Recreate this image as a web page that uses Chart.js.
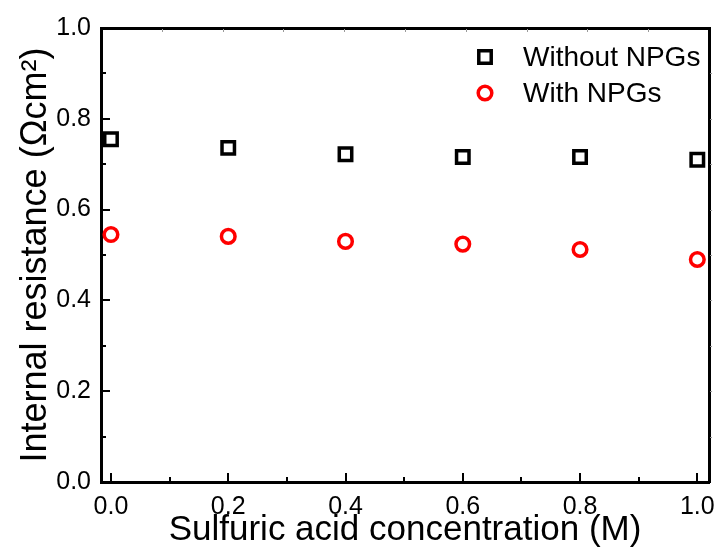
<!DOCTYPE html>
<html lang="en">
<head>
    <meta charset="UTF-8">
    <title>Internal resistance vs sulfuric acid concentration</title>
    <script src="https://cdn.jsdelivr.net/npm/chart.js"></script>
    <style>
        html, body {
            margin: 0;
            padding: 0;
            background: #fff;
        }
        #wrap {
            width: 725px;
            height: 556px;
        }
    </style>
</head>
<body>
    <div id="wrap">
        <canvas id="resChart" width="725" height="556"></canvas>
    </div>

    <script>
        // Data
        const concentration = [0.0, 0.2, 0.4, 0.6, 0.8, 1.0];
        const withoutNPGs = [0.755, 0.736, 0.722, 0.716, 0.716, 0.710];
        const withNPGs = [0.545, 0.541, 0.530, 0.524, 0.512, 0.490];
        const xTicks = [0.0, 0.2, 0.4, 0.6, 0.8, 1.0];
        const yTicks = [0.0, 0.2, 0.4, 0.6, 0.8, 1.0];
        const seriesNames = ['Without NPGs', 'With NPGs'];

        const FONT = 'Liberation Sans, Arial, sans-serif';

        const toPoints = ys => concentration.map((x, i) => ({ x: x, y: ys[i] }));

        // inward ticks on the bottom/left axes, tiny grey ones on top/right
        const frameTicks = {
            id: 'frameTicks',
            afterDraw(chart) {
                const ctx = chart.ctx;
                const area = chart.chartArea;
                const sx = chart.scales.x, sy = chart.scales.y;
                const sx2 = chart.scales.x2;
                ctx.save();
                ctx.strokeStyle = '#000';
                ctx.lineWidth = 2;
                ctx.beginPath();
                for (let i = 0; i < xTicks.length; i++) {
                    const px = Math.round(sx.getPixelForValue(xTicks[i]));
                    ctx.moveTo(px, area.bottom);
                    ctx.lineTo(px, area.bottom - 9);
                    if (i < xTicks.length - 1) {
                        const mx = Math.round(sx.getPixelForValue((xTicks[i] + xTicks[i + 1]) / 2));
                        ctx.moveTo(mx, area.bottom);
                        ctx.lineTo(mx, area.bottom - 5);
                    }
                }
                for (let i = 0; i < yTicks.length; i++) {
                    const py = Math.round(sy.getPixelForValue(yTicks[i]));
                    ctx.moveTo(area.left, py);
                    ctx.lineTo(area.left + 9, py);
                    if (i < yTicks.length - 1) {
                        const my = Math.round(sy.getPixelForValue((yTicks[i] + yTicks[i + 1]) / 2));
                        ctx.moveTo(area.left, my);
                        ctx.lineTo(area.left + 5, my);
                    }
                }
                ctx.stroke();

                ctx.strokeStyle = '#999';
                ctx.lineWidth = 1;
                ctx.beginPath();
                for (let k = 1; k < 10; k++) {
                    const px = Math.round(sx2.getPixelForValue(k / 10)) + 0.5;
                    ctx.moveTo(px, area.top + 1);
                    ctx.lineTo(px, area.top + 4);
                    const py = Math.round(sy.getPixelForValue(k / 10)) + 0.5;
                    ctx.moveTo(area.right + 1, py);
                    ctx.lineTo(area.right + 3, py);
                }
                ctx.stroke();
                ctx.restore();
            }
        };

        // legend inside the plot, top right
        const insideLegend = {
            id: 'insideLegend',
            afterDraw(chart) {
                const ctx = chart.ctx;
                ctx.save();
                chart.data.datasets.forEach((ds, i) => {
                    const mx = 485, my = 57 + i * 36;
                    ctx.lineWidth = ds.pointBorderWidth;
                    ctx.strokeStyle = ds.borderColor;
                    ctx.beginPath();
                    if (ds.pointStyle === 'rect') {
                        const s = ds.pointRadius * Math.SQRT1_2;
                        ctx.rect(mx - s, my - s, 2 * s, 2 * s);
                    } else {
                        ctx.arc(mx, my, ds.pointRadius, 0, Math.PI * 2);
                    }
                    ctx.stroke();
                    ctx.fillStyle = '#000';
                    ctx.font = '28px ' + FONT;
                    ctx.textBaseline = 'middle';
                    ctx.fillText(ds.label, 523, my + 1);
                });
                ctx.restore();
            }
        };

        new Chart(document.getElementById('resChart'), {
            type: 'scatter',
            data: {
                datasets: [{
                    label: seriesNames[0],
                    data: toPoints(withoutNPGs),
                    pointStyle: 'rect',
                    pointRadius: 8.8,
                    pointBorderWidth: 3.5,
                    borderColor: '#000000',
                    backgroundColor: 'rgba(0,0,0,0)'
                }, {
                    label: seriesNames[1],
                    data: toPoints(withNPGs),
                    pointStyle: 'circle',
                    pointRadius: 6.8,
                    pointBorderWidth: 3.5,
                    borderColor: '#ff0000',
                    backgroundColor: 'rgba(0,0,0,0)'
                }]
            },
            options: {
                responsive: false,
                animation: false,
                layout: { padding: 0 },
                scales: {
                    x: {
                        type: 'linear',
                        position: 'bottom',
                        min: -0.017,
                        max: 1.02,
                        afterBuildTicks: s => { s.ticks = xTicks.map(v => ({ value: v })); },
                        afterFit: s => { s.height = 74; },
                        grid: { display: true, drawOnChartArea: false, drawTicks: false },
                        border: { display: true, color: '#000', width: 3 },
                        ticks: {
                            color: '#000',
                            padding: 10,
                            maxRotation: 0,
                            font: { family: FONT, size: 25 },
                            callback: v => v.toFixed(1)
                        },
                        title: {
                            display: true,
                            text: 'Sulfuric acid concentration (M)',
                            color: '#000',
                            font: { family: FONT, size: 35 },
                            padding: { top: 0, bottom: 5 }
                        }
                    },
                    y: {
                        type: 'linear',
                        position: 'left',
                        min: 0,
                        max: 1,
                        afterBuildTicks: s => { s.ticks = yTicks.map(v => ({ value: v })); },
                        afterFit: s => { s.width = 101; },
                        grid: { display: true, drawOnChartArea: false, drawTicks: false },
                        border: { display: true, color: '#000', width: 3 },
                        ticks: {
                            color: '#000',
                            padding: 10,
                            font: { family: FONT, size: 25 },
                            callback: v => v.toFixed(1)
                        },
                        title: {
                            display: true,
                            text: 'Internal resistance (Ωcm²)',
                            color: '#000',
                            font: { family: FONT, size: 36 },
                            padding: { top: 14, bottom: 0 }
                        }
                    },
                    x2: {
                        type: 'linear',
                        position: 'top',
                        min: 0,
                        max: 1,
                        afterFit: s => { s.height = 28; },
                        grid: { display: true, drawOnChartArea: false, drawTicks: false },
                        border: { display: true, color: '#000', width: 3 },
                        ticks: { display: false }
                    },
                    y2: {
                        type: 'linear',
                        position: 'right',
                        min: 0,
                        max: 1,
                        afterFit: s => { s.width = 10; },
                        grid: { display: true, drawOnChartArea: false, drawTicks: false },
                        border: { display: true, color: '#000', width: 3 },
                        ticks: { display: false }
                    }
                },
                plugins: {
                    legend: { display: false },
                    tooltip: { enabled: false }
                }
            },
            plugins: [frameTicks, insideLegend]
        });
    </script>
</body>
</html>
